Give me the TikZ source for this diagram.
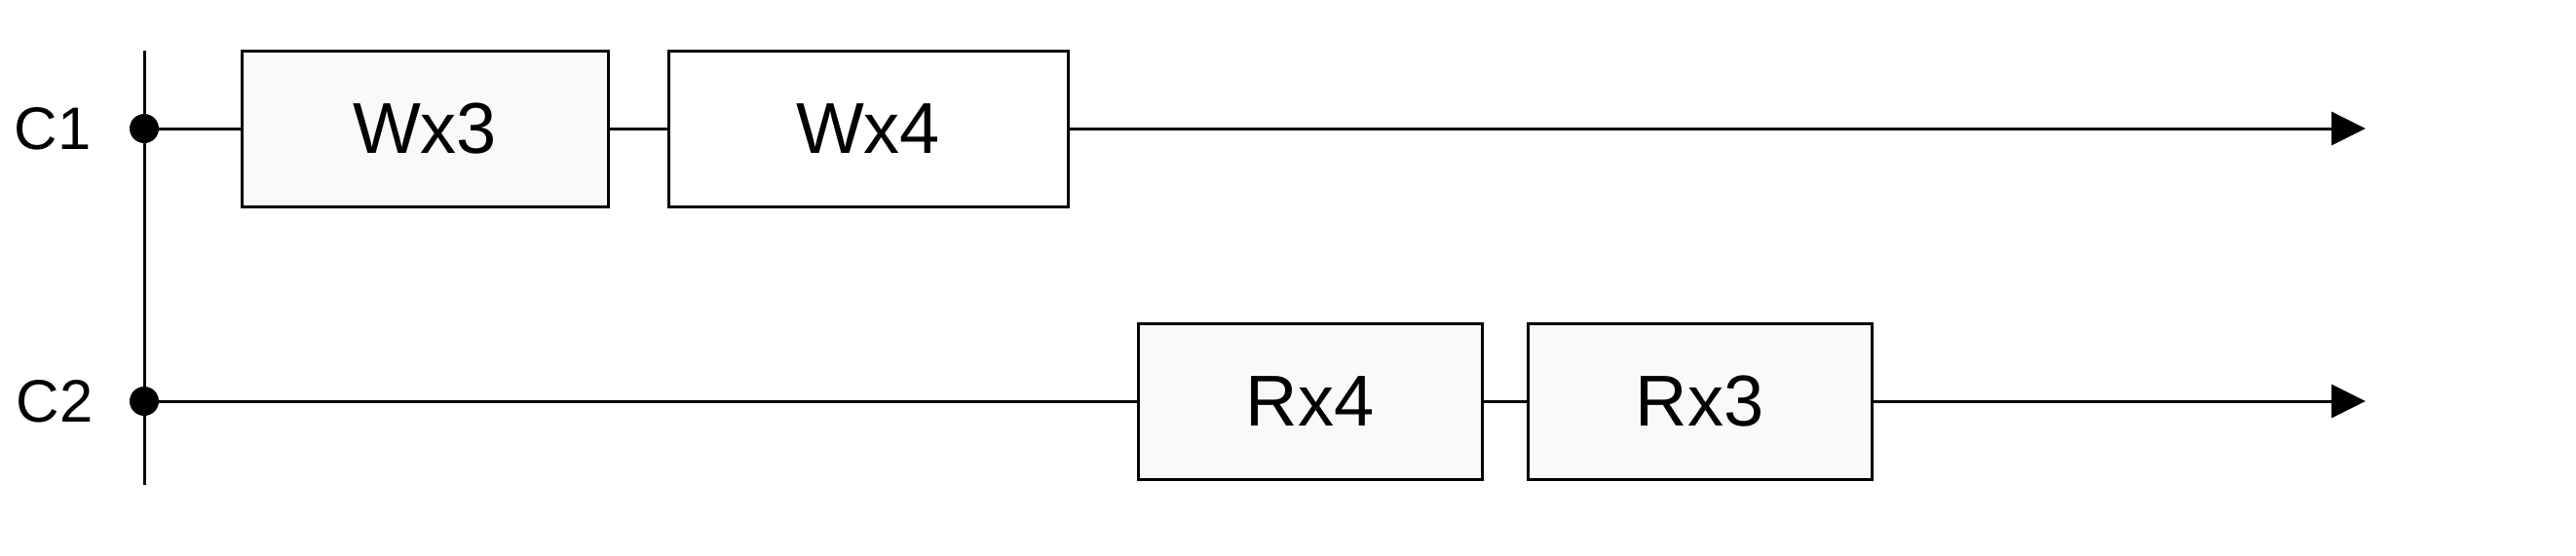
\documentclass[tikz,border=0pt]{standalone}
\usepackage{fontspec}
\setmainfont{Liberation Sans}
\usetikzlibrary{calc,arrows.meta}

\definecolor{boxgray}{HTML}{F9F9F9}

\tikzset{
    opbox/.style={draw, line width=0.75pt, minimum height=40pt, anchor=west,
        font=\fontsize{18.5}{22}\selectfont},
    joint/.style={circle, fill=black, minimum size=7.5pt},
    timeline/.style={line width=0.75pt},
}

\begin{document}
\begin{tikzpicture}[inner sep=0pt,outer sep=0pt]
    \useasboundingbox (0pt,0pt) rectangle (661pt,-142.5pt);

    % clients
    \coordinate (axis_top) at (37pt, -13pt);
    \coordinate (axis_bot) at (37pt, -124.5pt);
    \draw[timeline] (axis_top) -- (axis_bot);

    \node[joint] (c1_dot) at (37pt, -33pt) {};
    \node[joint] (c2_dot) at (37pt, -103pt) {};

    \node[font=\fontsize{15.4}{18}\selectfont] (c1_lbl) at (13.5pt, -33pt) {C1};
    \node[font=\fontsize{15.4}{18}\selectfont] (c2_lbl) at (14pt, -103pt) {C2};

    % C1 operations
    \node[opbox, fill=boxgray, minimum width=94pt] (wx3) at (62pt, -33pt) {Wx3};
    \node[opbox, fill=white, minimum width=102.5pt] (wx4)
    at ($(wx3.east) + (15.5pt, 0)$) {Wx4};
    \coordinate (c1_end) at (607pt, -33pt);

    \draw[timeline] (c1_dot) -- (wx3.west);
    \draw[timeline] (wx3.east) -- (wx4.west);
    \draw[timeline, -{Triangle[length=8.75pt, width=8.5pt]}] (wx4.east) -- (c1_end);

    % C2 operations
    \node[opbox, fill=boxgray, minimum width=88.25pt] (rx4) at (292pt, -103pt) {Rx4};
    \node[opbox, fill=boxgray, minimum width=88.25pt] (rx3)
    at ($(rx4.east) + (11.75pt, 0)$) {Rx3};
    \coordinate (c2_end) at (607pt, -103pt);

    \draw[timeline] (c2_dot) -- (rx4.west);
    \draw[timeline] (rx4.east) -- (rx3.west);
    \draw[timeline, -{Triangle[length=8.75pt, width=8.5pt]}] (rx3.east) -- (c2_end);

\end{tikzpicture}
\end{document}
